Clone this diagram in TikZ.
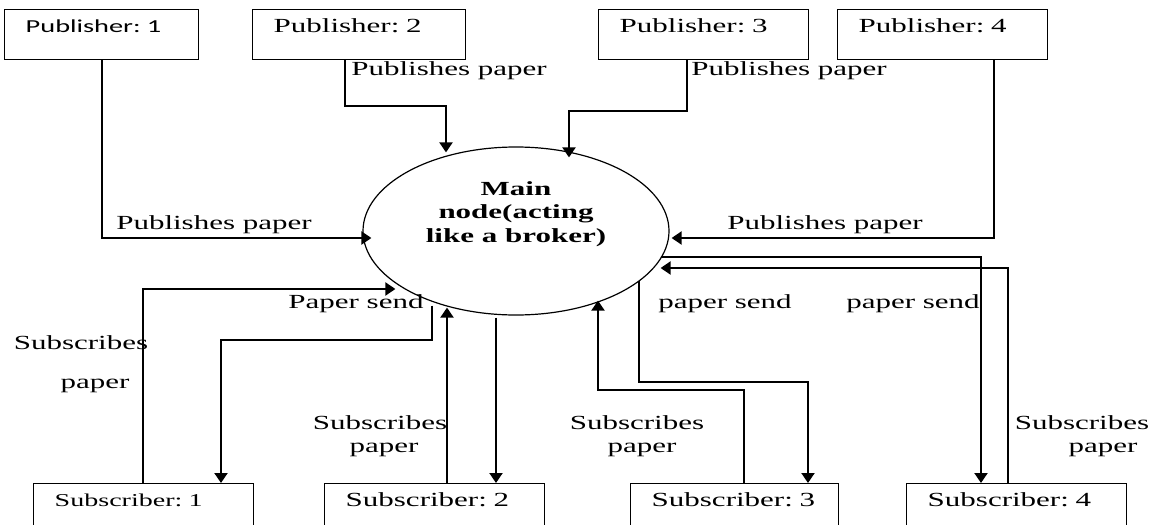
\documentclass[tikz,border=0pt]{standalone}
\usepackage{fontspec}
\setmainfont{Liberation Serif}[FakeStretch=1.55]
\newfontfamily\carlito{Carlito}[FakeStretch=1.55]
\usetikzlibrary{arrows.meta,shapes.geometric}
\frenchspacing

\begin{document}
\begin{tikzpicture}[
      x=0.5pt, y=-0.5pt,
      every node/.style={
        align=center, inner sep=0pt,
        font=\fontsize{10}{11.75}\selectfont
      },
      >={Triangle[length=5pt,width=6.5pt]},
      entity/.style={
        draw, line width=0.7pt, anchor=north west, align=left,
        inner xsep=10.5pt, inner ysep=0pt,
        text height=11.5pt, text depth=13.5pt, text width=#1
      },
      flow/.style={->, line width=1pt}
    ]
    \useasboundingbox (0,0) rectangle (1158,525);

    % Publishers
    \node (pub1) [entity=76pt, font=\carlito\fontsize{9.15}{11}\selectfont] at (4,9) {Publisher: 1};
    \node (pub2) [entity=85.5pt] at (252,9) {Publisher: 2};
    \node (pub3) [entity=84pt] at (598,9) {Publisher: 3};
    \node (pub4) [entity=84pt] at (837,9) {Publisher: 4};

    % Broker
    \node (broker) [draw, ellipse, line width=0.6pt, minimum width=153pt, minimum height=84pt] at (516,231) {};
    \node (brokertxt) [font=\bfseries\fontsize{10}{11.75}\selectfont] at (516,214) {Main\\node(acting\\like a broker)};

    % Subscribers
    \node (sub1) [entity=89pt, font=\fontsize{9.05}{11}\selectfont] at (33,483) {Subscriber: 1};
    \node (sub2) [entity=89pt] at (324,483) {Subscriber: 2};
    \node (sub3) [entity=83pt] at (630,483) {Subscriber: 3};
    \node (sub4) [entity=89pt] at (906,483) {Subscriber: 4};

    % Publishing flows
    \draw[flow] (pub1.south) |- ([shift={(9,7)}]broker.west);
    \draw[flow] (pub2.south -| 345,0) -- ++(0,46) -| ([shift={(-70,6)}]broker.north);
    \draw[flow] (pub3.south -| 687,0) -- ++(0,51) -| ([shift={(53,11)}]broker.north);
    \draw[flow] (pub4.south -| 994,0) |- ([shift={(2,7)}]broker.east);

    \node (lpub1) at (214,225) {Publishes paper};
    \node (lpub2) at (449,71) {Publishes paper};
    \node (lpub3) at (789,71) {Publishes paper};
    \node (lpub4) at (825,225) {Publishes paper};

    % Subscription flows
    \draw[flow] (sub1.north -| 143,0) |- ([shift={(33,58)}]broker.west);
    \draw[flow] ([shift={(-84,-10)}]broker.south) -- ++(0,34) -| (sub1.north -| 221,0);
    \draw[flow] (sub2.north -| 447,0) -- ([shift={(-69,-8)}]broker.south);
    \draw[flow] ([shift={(-20,2)}]broker.south) -- (sub2.north -| 496,0);
    \draw[flow] (sub3.north -| 744,0) -- ++(0,-93) -| ([shift={(82,-15)}]broker.south);
    \draw[flow] ([shift={(123,-35)}]broker.south) -- ++(0,101) -| (sub3.north -| 808,0);
    \draw[flow] ([shift={(-9,26)}]broker.east) -| (sub4.north -| 981,0);
    \draw[flow] (sub4.north -| 1008,0) |- ([shift={(-9,37)}]broker.east);

    \node (lsub1a) at (81,343) {Subscribes};
    \node (lsub1b) at (95,386) {paper};
    \node (lsend1) at (356,304) {Paper send};
    \node (lsub2a) at (380,423) {Subscribes};
    \node (lsub2b) at (384,450) {paper};
    \node (lsub3a) at (637,423) {Subscribes};
    \node (lsub3b) at (642,450) {paper};
    \node (lsend3) at (725,304) {paper send};
    \node (lsend4) at (913,304) {paper send};
    \node (lsub4a) at (1082,423) {Subscribes};
    \node (lsub4b) at (1103,450) {paper};
\end{tikzpicture}
\end{document}
